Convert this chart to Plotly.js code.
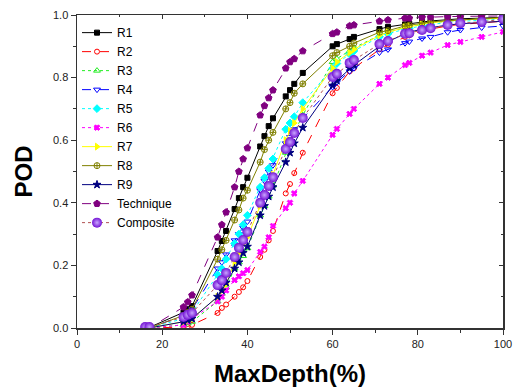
<!DOCTYPE html>
<html>
<head>
<meta charset="utf-8">
<script src="https://cdn.plot.ly/plotly-3.0.1.min.js"></script>
<style>html,body{margin:0;padding:0;background:#fff;}#chart{width:513px;height:391px;}</style>
</head>
<body>
<div id="chart"></div>
<script>
const depth = [16,17,25,26,27,33,34,35,37,38,39,40,43,44,45,46,49,50,51,53,60,61,64,65,71,73,77,78,81,83,87,90,95,100];
const R1 = [0,0.002,0.05,0.06,0.07,0.246,0.278,0.31,0.38,0.415,0.45,0.48,0.58,0.613,0.645,0.67,0.74,0.76,0.78,0.815,0.90,0.907,0.923,0.93,0.955,0.962,0.97,0.972,0.978,0.981,0.985,0.988,0.99,0.993];
const R2 = [0,0,0.003,0.005,0.01,0.048,0.064,0.075,0.1,0.115,0.13,0.15,0.227,0.25,0.28,0.31,0.43,0.46,0.495,0.56,0.75,0.767,0.82,0.83,0.89,0.905,0.93,0.935,0.95,0.955,0.965,0.97,0.975,0.98];
const R3 = [0,0,0.01,0.015,0.02,0.085,0.11,0.13,0.19,0.21,0.23,0.255,0.36,0.39,0.42,0.455,0.56,0.595,0.625,0.68,0.85,0.86,0.885,0.895,0.935,0.945,0.96,0.963,0.97,0.975,0.98,0.984,0.987,0.99];
const R4 = [0,0,0.04,0.05,0.06,0.19,0.21,0.235,0.28,0.30,0.32,0.34,0.44,0.47,0.50,0.52,0.59,0.61,0.635,0.67,0.77,0.785,0.82,0.83,0.88,0.89,0.91,0.915,0.925,0.93,0.945,0.952,0.96,0.965];
const R5 = [0,0,0.03,0.04,0.05,0.17,0.19,0.22,0.27,0.30,0.33,0.36,0.45,0.48,0.51,0.54,0.635,0.655,0.675,0.72,0.83,0.845,0.875,0.885,0.93,0.94,0.955,0.958,0.965,0.97,0.975,0.98,0.983,0.987];
const R6 = [0,0,0.01,0.02,0.03,0.085,0.10,0.12,0.153,0.165,0.175,0.185,0.243,0.26,0.29,0.326,0.383,0.40,0.43,0.47,0.617,0.636,0.684,0.70,0.78,0.80,0.84,0.847,0.87,0.88,0.904,0.914,0.93,0.946];
const R7 = [0,0,0.02,0.025,0.03,0.1,0.12,0.14,0.21,0.24,0.27,0.29,0.39,0.42,0.455,0.49,0.6,0.63,0.655,0.7,0.83,0.85,0.88,0.89,0.935,0.945,0.96,0.963,0.97,0.975,0.98,0.984,0.987,0.99];
const R8 = [0,0,0.04,0.05,0.06,0.22,0.25,0.28,0.345,0.377,0.415,0.44,0.53,0.57,0.60,0.625,0.70,0.72,0.75,0.78,0.87,0.88,0.90,0.91,0.945,0.95,0.965,0.967,0.975,0.978,0.982,0.985,0.988,0.992];
const R9 = [0,0,0.02,0.025,0.03,0.1,0.12,0.145,0.19,0.21,0.24,0.26,0.36,0.39,0.42,0.45,0.53,0.56,0.59,0.64,0.775,0.79,0.83,0.84,0.9,0.915,0.94,0.945,0.955,0.96,0.968,0.972,0.977,0.98];
const Technique = [0,0,0.067,0.083,0.105,0.29,0.33,0.37,0.45,0.50,0.54,0.575,0.68,0.71,0.735,0.76,0.83,0.85,0.86,0.885,0.94,0.945,0.965,0.968,0.98,0.984,0.99,0.99,0.993,0.993,0.995,0.995,0.996,0.997];
const Composite = [0.003,0.003,0.035,0.042,0.048,0.137,0.153,0.176,0.227,0.256,0.281,0.307,0.40,0.425,0.454,0.482,0.572,0.594,0.623,0.671,0.802,0.812,0.847,0.856,0.907,0.917,0.94,0.942,0.952,0.958,0.968,0.974,0.978,0.987];

const seriesNames = ['R1','R2','R3','R4','R5','R6','R7','R8','R9','Technique','Composite'];
const seriesValues = [R1,R2,R3,R4,R5,R6,R7,R8,R9,Technique,Composite];
const colors = ['#000000','#ff0000','#22ee22','#0000ff','#00ffff','#ff00ff','#ffff00','#808000','#000080','#800080','#b05050'];
const markerColors = ['#000000','#ff0000','#22ee22','#0000ff','#00ffff','#ff00ff','#ffff00','#808000','#000080','#800080','#7414d4'];
const dashes = ['solid','dash','dot','dash','dot','dot','solid','solid','solid','dash','dot'];
const symbols = ['square','circle-open','triangle-up-open','triangle-down-open','diamond','x','triangle-right','circle-cross-open','star','pentagon','circle'];
const sizes = [5,5,6,6,6,5,6,6,6,7,10];

const traces = seriesNames.map((n,i)=>{
  const t = {
    type:'scatter', mode:'lines+markers', name:n, x:depth, y:seriesValues[i],
    line:{color:colors[i], width:1, dash:dashes[i]},
    marker:{symbol:symbols[i], size:sizes[i], color:markerColors[i], line:{color:markerColors[i], width:1}}
  };
  if(n==='Composite'){
    t.marker.gradient = {type:'radial', color:'#c9a6ff'};
    t.marker.line = {width:0};
  }
  return t;
});
traces.push({type:'scatter', x:[null], y:[null], xaxis:'x2', yaxis:'y2', showlegend:false, hoverinfo:'skip'});

const tickFont = {family:'Liberation Sans, Arial, sans-serif', size:11, color:'#222'};
const titleFont = {family:'Liberation Sans, Arial, sans-serif', size:24, color:'#000', weight:'bold'};

const layout = {
  width:513, height:391,
  margin:{l:77, r:10, t:15, b:63},
  paper_bgcolor:'#fff', plot_bgcolor:'#fff',
  showlegend:true,
  legend:{x:0.0, y:0.99, xanchor:'left', yanchor:'top', bgcolor:'rgba(0,0,0,0)', borderwidth:0,
          font:{family:'Liberation Sans, Arial, sans-serif', size:12, color:'#000'}, tracegroupgap:0},
  xaxis:{range:[0,100], dtick:20, tick0:0, ticks:'outside', ticklen:5, tickwidth:1, tickcolor:'#333',
         showgrid:false, zeroline:false, showline:true, linecolor:'#333', linewidth:1.5, mirror:true,
         tickfont:tickFont, minor:{dtick:10, ticks:'outside', ticklen:3, tickcolor:'#333', showgrid:false},
         title:{text:'MaxDepth(%)', font:titleFont, standoff:16}},
  yaxis:{range:[0,1], dtick:0.2, tick0:0, tickformat:'.1f', ticks:'outside', ticklen:5, tickwidth:1, tickcolor:'#333',
         showgrid:false, zeroline:false, showline:true, linecolor:'#333', linewidth:1.5, mirror:true,
         tickfont:tickFont, minor:{dtick:0.1, ticks:'outside', ticklen:3, tickcolor:'#333', showgrid:false},
         title:{text:'POD', font:titleFont, standoff:13}},
  xaxis2:{overlaying:'x', side:'top', range:[0,100], dtick:20, ticks:'inside', ticklen:4, tickcolor:'#333',
          showticklabels:false, showgrid:false, zeroline:false, showline:false,
          minor:{dtick:10, ticks:'inside', ticklen:2, tickcolor:'#333'}},
  yaxis2:{overlaying:'y', side:'right', range:[0,1], dtick:0.2, ticks:'inside', ticklen:4, tickcolor:'#333',
          showticklabels:false, showgrid:false, zeroline:false, showline:false,
          minor:{dtick:0.1, ticks:'inside', ticklen:2, tickcolor:'#333'}}
};

Plotly.newPlot('chart', traces, layout, {displayModeBar:false, staticPlot:true});
</script>
</body>
</html>
